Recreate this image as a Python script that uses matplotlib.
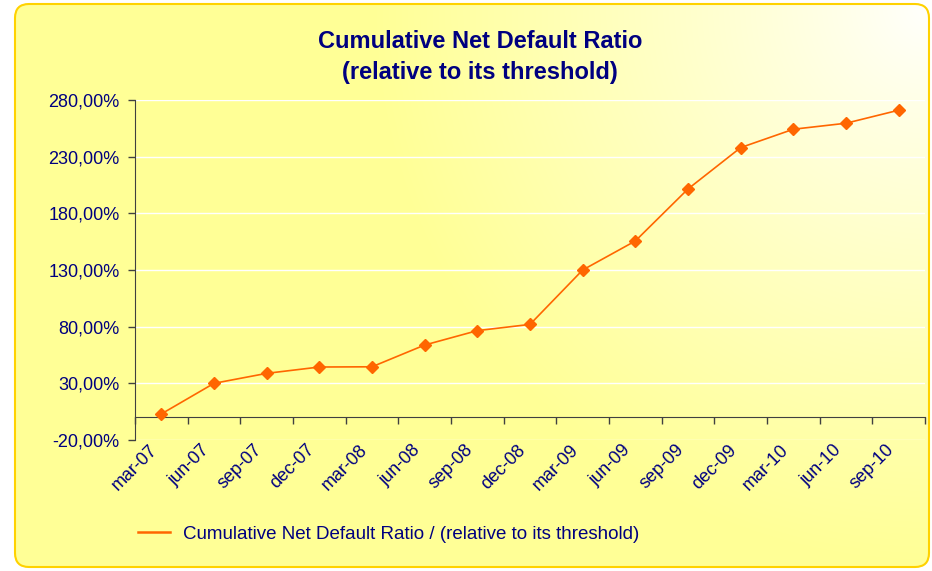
import numpy as np
import matplotlib
matplotlib.use("Agg")
import matplotlib.pyplot as plt
import matplotlib.transforms as mtransforms
from matplotlib.patches import FancyBboxPatch
from matplotlib.ticker import FuncFormatter, FixedLocator, NullFormatter

plt.rcParams['font.family'] = ['Liberation Sans', 'DejaVu Sans']

categories = ["mar-07", "jun-07", "sep-07", "dec-07", "mar-08", "jun-08", "sep-08", "dec-08",
              "mar-09", "jun-09", "sep-09", "dec-09", "mar-10", "jun-10", "sep-10"]
values = [3.0, 30.0, 38.8, 44.4, 44.6, 63.8, 76.5, 82.0,
          130.0, 155.6, 201.5, 238.0, 254.2, 259.5, 271.0]
y_ticks = [-20, 30, 80, 130, 180, 230, 280]
title = "Cumulative Net Default Ratio\n(relative to its threshold)"
series_name = "Cumulative Net Default Ratio / (relative to its threshold)"

navy = "#000080"
orange = "#FF6600"

W, H = 932, 571
fig = plt.figure(figsize=(W / 100, H / 100), dpi=100)
fig.patch.set_facecolor("white")

# background gradient (white at top-right corner, yellow elsewhere)
bg = fig.add_axes([0, 0, 1, 1], zorder=-10)
bg.set_xlim(0, W)
bg.set_ylim(H, 0)
bg.axis("off")
xx, yy = np.meshgrid(np.arange(W), np.arange(H))
d = np.hypot(xx - 930, yy - 5)
t = np.clip(d / 560.0, 0, 1) ** 0.85
yellow = np.array([255, 255, 150]) / 255.0
white = np.array([255, 255, 255]) / 255.0
img = white[None, None, :] * (1 - t[..., None]) + yellow[None, None, :] * t[..., None]
box = FancyBboxPatch((15, 4), 914, 563, boxstyle="round,pad=0,rounding_size=14",
                     linewidth=1.5, edgecolor="#FFD200", facecolor="none")
bg.add_patch(box)
im = bg.imshow(img, extent=(0, W, H, 0), aspect="auto", zorder=0)
im.set_clip_path(box)

ax = fig.add_axes([135 / W, 1 - 440 / H, (925 - 135) / W, (440 - 100) / H])
ax.patch.set_alpha(0)

x = np.arange(len(categories))
ax.plot(x, values, color=orange, lw=1.2, marker="D", ms=6.0, mec=orange, mfc=orange,
        label=series_name, zorder=5, clip_on=False)

ax.set_xlim(-0.5, len(categories) - 0.5)
ax.set_ylim(-20, 280)
ax.yaxis.set_major_locator(FixedLocator(y_ticks))
ax.yaxis.set_major_formatter(FuncFormatter(lambda v, p: f"{v:.2f}".replace(".", ",") + "%"))
ax.grid(axis="y", color="white", lw=1.0, zorder=0)
ax.set_axisbelow(True)

for s in ["top", "right"]:
    ax.spines[s].set_visible(False)
ax.spines["left"].set_color("#404040")
ax.spines["bottom"].set_color("#404040")
ax.spines["bottom"].set_position(("data", 0))

# category boundary ticks on the zero line
ax.xaxis.set_major_locator(FixedLocator(np.arange(len(categories) + 1) - 0.5))
ax.xaxis.set_major_formatter(NullFormatter())
ax.tick_params(axis="x", direction="out", length=5, color="#404040", width=1)
ax.tick_params(axis="y", direction="out", length=5, color="#404040", width=1,
               labelsize=13, labelcolor=navy, pad=6)

sec = ax.secondary_xaxis(0)
sec.spines["bottom"].set_visible(False)
sec.set_xticks(x)
sec.set_xticklabels(categories, rotation=45, ha="right", va="top", rotation_mode="anchor")
sec.tick_params(axis="x", length=0, labelsize=13, labelcolor=navy, pad=1)
offset = mtransforms.ScaledTranslation(-13 / 100, 0, fig.dpi_scale_trans)
for lab in sec.get_xticklabels():
    lab.set_transform(lab.get_transform() + offset)

fig.text(480 / W, 1 - 57 / H, title, ha="center", va="center", fontsize=17,
         fontweight="bold", color=navy, linespacing=1.5)

leg = fig.legend(loc="center left", bbox_to_anchor=(121 / W, 1 - 534 / H), frameon=False,
                 fontsize=13.5, handlelength=1.7, handletextpad=0.7)
for txt in leg.get_texts():
    txt.set_color(navy)
for h in leg.legend_handles:
    h.set_marker("")
    h.set_linewidth(1.8)

fig.savefig("out.png", dpi=100)
